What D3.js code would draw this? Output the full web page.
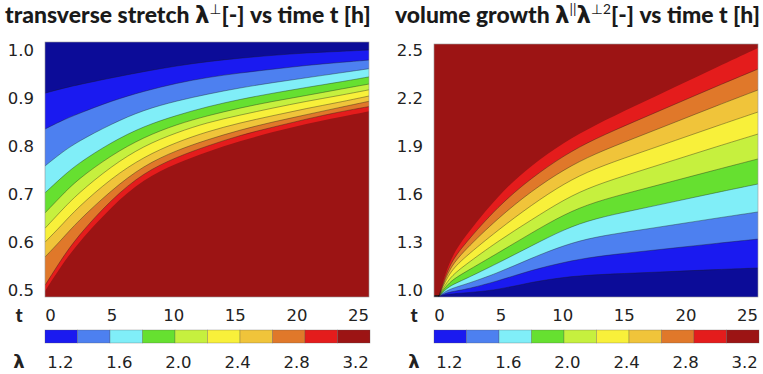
<!DOCTYPE html>
<html>
<head>
<meta charset="utf-8">
<script src="https://cdn.jsdelivr.net/npm/d3@7"></script>
<style>
    body { margin: 0; background: #fff; }
    svg { display: block; }
</style>
</head>
<body>
<svg id="chart" width="763" height="374"></svg>
<script>
// lambda band edges (colour bar) and the colours of the filled bands
const levels = [1.1, 1.32, 1.54, 1.76, 1.98, 2.2, 2.42, 2.64, 2.86, 3.08, 3.3];
const bandColors = ['#0c0c98', '#1a1af0', '#4d80f0', '#80eef8', '#66e030', '#c6f03e',
                    '#f8f03a', '#f0c43a', '#e0782a', '#e41c1c', '#9c1414'];
const barTicks = [1.2, 1.6, 2.0, 2.4, 2.8, 3.2];
const timeTicks = [0, 5, 10, 15, 20, 25];
const leftYTicks = [0.5, 0.6, 0.7, 0.8, 0.9, 1.0];
const rightYTicks = [1.0, 1.3, 1.6, 1.9, 2.2, 2.5];

// left panel: height of each contour (lambda = 1.1 ... 3.08) at these times
const tLeft = [-0.4, 0.9, 2.2, 5, 7.6, 10.3, 12.8, 15.4, 18.1, 20.8, 23.5, 25.9];
const leftContours = [
    [0.911, 0.920, 0.928, 0.943, 0.956, 0.968, 0.977, 0.984, 0.990, 0.995, 0.998, 1.001],
    [0.836, 0.853, 0.867, 0.895, 0.915, 0.932, 0.944, 0.953, 0.961, 0.969, 0.975, 0.980],
    [0.759, 0.786, 0.809, 0.847, 0.876, 0.895, 0.909, 0.922, 0.933, 0.943, 0.953, 0.962],
    [0.703, 0.734, 0.763, 0.809, 0.842, 0.865, 0.883, 0.898, 0.911, 0.923, 0.934, 0.945],
    [0.661, 0.696, 0.730, 0.782, 0.819, 0.846, 0.864, 0.880, 0.894, 0.906, 0.919, 0.930],
    [0.629, 0.665, 0.700, 0.759, 0.801, 0.829, 0.850, 0.865, 0.880, 0.894, 0.906, 0.918],
    [0.600, 0.634, 0.671, 0.734, 0.778, 0.809, 0.831, 0.849, 0.864, 0.879, 0.892, 0.905],
    [0.569, 0.604, 0.642, 0.709, 0.760, 0.792, 0.814, 0.834, 0.851, 0.866, 0.881, 0.894],
    [0.510, 0.563, 0.611, 0.690, 0.745, 0.778, 0.801, 0.823, 0.840, 0.857, 0.872, 0.883],
    [0.498, 0.550, 0.596, 0.675, 0.732, 0.765, 0.789, 0.811, 0.830, 0.847, 0.861, 0.873]
];

// right panel: same levels, every contour starts from the same point at t = 0
const tRight = [-0.4, 0, 0, 0, 0.8, 2, 4.8, 7.5, 10.2, 12.6, 15.9, 19.2, 22.5, 25.9];
const rightContours = [
    [0.962, 0.962, 0.962, 0.962, 0.975, 0.981, 1.000, 1.050, 1.081, 1.096, 1.106, 1.117, 1.128, 1.138],
    [0.962, 0.962, 0.962, 0.962, 0.988, 1.000, 1.056, 1.125, 1.175, 1.209, 1.237, 1.264, 1.292, 1.319],
    [0.962, 0.962, 0.962, 0.962, 1.006, 1.031, 1.107, 1.200, 1.282, 1.332, 1.371, 1.410, 1.450, 1.489],
    [0.962, 0.962, 0.962, 0.962, 1.025, 1.063, 1.169, 1.276, 1.382, 1.447, 1.501, 1.555, 1.610, 1.664],
    [0.962, 0.962, 0.962, 0.962, 1.050, 1.107, 1.232, 1.357, 1.476, 1.551, 1.619, 1.686, 1.753, 1.821],
    [0.962, 0.962, 0.962, 0.962, 1.075, 1.150, 1.307, 1.439, 1.570, 1.655, 1.736, 1.816, 1.897, 1.977],
    [0.962, 0.962, 0.962, 0.962, 1.107, 1.200, 1.376, 1.532, 1.670, 1.760, 1.849, 1.937, 2.026, 2.115],
    [0.962, 0.962, 0.962, 0.962, 1.132, 1.244, 1.451, 1.620, 1.758, 1.852, 1.952, 2.052, 2.153, 2.253],
    [0.962, 0.962, 0.962, 0.962, 1.157, 1.282, 1.526, 1.702, 1.846, 1.945, 2.056, 2.165, 2.275, 2.384],
    [0.962, 0.962, 0.962, 0.962, 1.182, 1.326, 1.595, 1.783, 1.927, 2.030, 2.152, 2.273, 2.394, 2.516]
];

const svg = d3.select('#chart');
const tickFont = '"DejaVu Sans", sans-serif';
const boldFont = 'Lato, "DejaVu Sans", sans-serif';

const drawPanel = (opts) => {
    const { id, left, right, top, bottom, labelX, yDomain, yRange, yTicks, times, contours, highAtBottom } = opts;

    const x = d3.scaleLinear().domain([0, 25]).range([left + 5, right - 11]);
    const y = d3.scaleLinear().domain(yDomain).range(yRange);

    svg.append('clipPath')
       .attr('id', 'clip-' + id)
       .append('rect')
       .attr('x', left).attr('y', top)
       .attr('width', right - left).attr('height', bottom - top);

    const g = svg.append('g').attr('clip-path', `url(#clip-${id})`);

    // lowest band fills the panel, every higher band is painted over it
    g.append('rect')
     .attr('x', left).attr('y', top)
     .attr('width', right - left).attr('height', bottom - top)
     .attr('fill', bandColors[0]);

    const edge = highAtBottom ? bottom : top;
    const area = d3.area()
                   .x((d, i) => x(times[i]))
                   .y0(edge)
                   .y1(d => y(d))
                   .curve(d3.curveBasis);

    g.selectAll('path.band')
     .data(contours)
     .enter()
     .append('path')
     .attr('class', 'band')
     .attr('d', area)
     .attr('fill', (d, i) => bandColors[i + 1]);

    const line = d3.line()
                   .x((d, i) => x(times[i]))
                   .y(d => y(d))
                   .curve(d3.curveBasis);

    g.selectAll('path.iso')
     .data(contours.slice(0, 9))
     .enter()
     .append('path')
     .attr('class', 'iso')
     .attr('d', line)
     .attr('fill', 'none')
     .attr('stroke', '#1a1a1a')
     .attr('stroke-opacity', 0.55)
     .attr('stroke-width', 0.7);

    svg.append('rect')
       .attr('x', left).attr('y', top)
       .attr('width', right - left).attr('height', bottom - top)
       .attr('fill', 'none')
       .attr('stroke', '#9a9a9a')
       .attr('stroke-width', 0.6);

    // y tick labels
    const yAxis = svg.append('g')
                     .attr('transform', `translate(${left - 11},0)`)
                     .call(d3.axisLeft(y).tickValues(yTicks).tickSize(0).tickPadding(0).tickFormat(d3.format('.1f')));
    yAxis.select('.domain').remove();
    yAxis.selectAll('text')
         .attr('font-family', tickFont)
         .attr('font-size', 16.5)
         .attr('fill', '#222');

    // time tick labels
    const xAxis = svg.append('g')
                     .attr('transform', 'translate(0,315)')
                     .call(d3.axisBottom(x).tickValues(timeTicks).tickSize(0).tickPadding(0));
    xAxis.select('.domain').remove();
    xAxis.selectAll('text')
         .attr('y', 0)
         .attr('dy', '0.36em')
         .attr('font-family', tickFont)
         .attr('font-size', 16.5)
         .attr('fill', '#222');

    // colour bar
    const cb = d3.scaleLinear().domain([levels[0], levels[levels.length - 1]]).range([left, right + 1]);
    svg.append('g')
       .selectAll('rect')
       .data(d3.pairs(levels))
       .enter()
       .append('rect')
       .attr('x', d => cb(d[0]))
       .attr('y', 330)
       .attr('width', d => cb(d[1]) - cb(d[0]))
       .attr('height', 13)
       .attr('fill', (d, i) => bandColors[i + 1])
       .attr('stroke', '#555')
       .attr('stroke-opacity', 0.5)
       .attr('stroke-width', 0.6);

    const cbAxis = svg.append('g')
                      .attr('transform', 'translate(0,362)')
                      .call(d3.axisBottom(cb).tickValues(barTicks).tickSize(0).tickPadding(0).tickFormat(d3.format('.1f')));
    cbAxis.select('.domain').remove();
    cbAxis.selectAll('text')
          .attr('y', 0)
          .attr('dy', '0.36em')
          .attr('font-family', tickFont)
          .attr('font-size', 16.5)
          .attr('fill', '#222');

    svg.append('text')
       .attr('x', labelX).attr('y', 315).attr('dy', '0.36em')
       .attr('text-anchor', 'middle')
       .attr('font-family', boldFont).attr('font-weight', 900).attr('font-size', 19)
       .attr('fill', '#222')
       .text('t');

    svg.append('text')
       .attr('x', labelX).attr('y', 362).attr('dy', '0.36em')
       .attr('text-anchor', 'middle')
       .attr('font-family', '"DejaVu Sans", sans-serif').attr('font-weight', 'bold').attr('font-size', 18)
       .attr('fill', '#222')
       .text('λ');
};

drawPanel({
    id: 'left', left: 45, right: 369, top: 42, bottom: 297, labelX: 19,
    yDomain: [0.5, 1.0], yRange: [290, 50.5], yTicks: leftYTicks,
    times: tLeft, contours: leftContours, highAtBottom: true
});

drawPanel({
    id: 'right', left: 434, right: 758, top: 44, bottom: 297, labelX: 414,
    yDomain: [1.0, 2.5], yRange: [290, 50.5], yTicks: rightYTicks,
    times: tRight, contours: rightContours, highAtBottom: false
});

// titles with superscripts, scaled to the width they take in the figure
const addTitle = (x0, x1, parts) => {
    const g = svg.append('g');
    const t = g.append('text')
               .attr('x', 0).attr('y', 0)
               .attr('font-family', boldFont)
               .attr('font-weight', 900)
               .attr('font-size', 20)
               .attr('fill', '#1a1a1a');
    parts.forEach(p => {
        t.append('tspan')
         .attr('dy', p.sup ? -8 : (p.after ? 8 : 0))
         .attr('font-size', p.sup ? 12 : 20)
         .attr('font-weight', p.sup ? 400 : 900)
         .attr('font-family', p.greek ? '"DejaVu Sans", sans-serif' : null)
         .text(p.text);
    });
    const w = t.node().getBBox().width;
    const k = (x1 - x0) / w;
    g.attr('transform', `translate(${x0},23) scale(${k})`);
};

addTitle(5, 371, [
    { text: 'transverse stretch ' },
    { text: 'λ', greek: true },
    { text: '⊥', sup: true },
    { text: '[-] vs time t [h]', after: true }
]);

addTitle(395, 760, [
    { text: 'volume growth ' },
    { text: 'λ', greek: true },
    { text: '||', sup: true },
    { text: 'λ', greek: true, after: true },
    { text: '⊥2', sup: true },
    { text: '[-] vs time t [h]', after: true }
]);
</script>
</body>
</html>
